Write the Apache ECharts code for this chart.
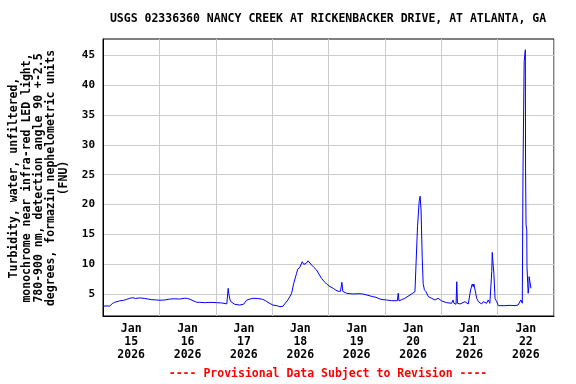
<!DOCTYPE html>
<html>
<head>
<meta charset="utf-8">
<script src="https://cdn.jsdelivr.net/npm/echarts@6/dist/echarts.min.js"></script>
<style>html,body{margin:0;padding:0;background:#fff;}#c{width:576px;height:384px;}</style>
</head>
<body>
<div id="c"></div>
<script>
// Hours since 2026-01-15 00:00
var hours = [0.0,2.85,4.13,5.0,7.1,8.8,10.1,11.4,12.65,13.9,15.6,17.8,18.6,20.7,22.9,24.2,26.3,28.4,30.5,32.7,34.8,36.1,37.4,38.2,39.9,41.2,43.3,45.5,48.4,50.6,52.7,53.3,53.5,54.0,54.4,56.1,58.2,59.9,61.1,62.5,63.8,65.9,68.0,69.3,70.2,72.3,74.0,75.3,76.6,77.4,78.7,79.5,80.3,81.2,82.4,82.9,83.8,84.8,85.5,85.9,86.6,87.3,88.1,88.8,89.8,90.9,91.9,93.0,94.0,95.2,96.6,98.0,99.1,100.1,101.1,101.7,102.1,103.7,105.1,106.4,108.5,110.6,112.8,114.9,116.2,117.9,119.2,120.7,122.9,125.3,125.7,126.0,126.7,128.5,130.7,131.9,132.8,133.6,133.9,134.6,135.0,135.4,135.9,136.3,136.8,137.5,138.5,139.9,141.3,142.7,144.2,146.3,148.4,149.0,149.4,150.3,150.6,150.9,152.0,154.1,155.5,156.5,157.2,157.6,157.9,158.4,159.1,159.8,161.2,161.9,163.3,164.0,164.7,165.5,165.7,166.1,166.4,166.9,167.6,168.3,171.1,173.3,175.4,176.7,177.5,177.9,178.5,178.8,179.3,179.8,179.9,180.1,180.4,180.5,180.8,181.0,181.3,181.4,182.0,182.2];
var turbidity = [3.04,3.04,3.5,3.66,3.9,4.0,4.16,4.33,4.43,4.3,4.4,4.3,4.16,4.1,4.05,4.0,4.05,4.2,4.25,4.2,4.35,4.3,4.1,3.88,3.66,3.66,3.6,3.65,3.6,3.55,3.4,6.0,5.2,4.2,3.77,3.33,3.2,3.35,4.0,4.2,4.33,4.3,4.16,3.9,3.66,3.2,3.1,2.93,3.0,3.33,4.05,4.6,5.17,6.84,8.5,9.2,9.5,10.45,10.0,9.7,10.2,10.6,10.3,9.9,9.5,9.07,8.4,7.68,7.2,6.72,6.3,6.0,5.7,5.5,5.5,7.0,5.5,5.17,5.1,5.05,5.1,5.05,4.83,4.6,4.5,4.21,4.1,4.05,3.93,3.93,5.17,3.9,3.77,4.33,4.88,5.2,5.44,5.17,16.3,20.5,21.4,19.1,11.1,6.8,5.8,5.44,4.6,4.33,4.05,4.33,3.88,3.6,3.5,4.05,3.5,3.33,7.1,3.5,3.38,3.77,3.38,5.72,6.72,6.27,6.72,5.72,4.33,3.77,3.38,3.77,3.5,4.05,3.5,8.8,12.0,9.9,8.5,4.33,3.77,3.1,3.1,3.15,3.1,3.2,3.15,4.05,3.5,25.5,43.9,45.9,25.8,16.6,15.8,9.6,6.84,5.17,6.27,7.95,7.95,6.0];
var xLabelHours = [12,36,60,84,108,132,156,180];
var xLabels = ['Jan\n15\n2026','Jan\n16\n2026','Jan\n17\n2026','Jan\n18\n2026','Jan\n19\n2026','Jan\n20\n2026','Jan\n21\n2026','Jan\n22\n2026'];
var yTicks = [5,10,15,20,25,30,35,40,45];
var titleText = 'USGS 02336360 NANCY CREEK AT RICKENBACKER DRIVE, AT ATLANTA, GA';
var yTitle = 'Turbidity, water, unfiltered,\nmonochrome near infra-red LED light,\n780-900 nm, detection angle 90 +-2.5\ndegrees, formazin nephelometric units\n(FNU)';
var footText = '---- Provisional Data Subject to Revision ----';

var FONT = '"DejaVu Sans Mono", monospace';
var data = hours.map(function(h,i){return [h, turbidity[i]];});
var chart = echarts.init(document.getElementById('c'));
chart.setOption({
  animation: false,
  backgroundColor: '#fff',
  title: {
    text: titleText, left: 328, top: 13, textAlign: 'center', padding: 0,
    textStyle: {fontFamily: FONT, fontWeight: 'bold', fontSize: 11.5, color: '#000'}
  },
  grid: {left: 103, right: 22, top: 39, bottom: 68, show: true, borderColor: '#000', borderWidth: 1, containLabel: false},
  xAxis: {
    type: 'value', min: 0, max: 192, interval: 24,
    axisLine: {show: true, lineStyle: {color: '#000', width: 1}},
    axisTick: {show: false},
    splitLine: {show: true, lineStyle: {color: '#cccccc', width: 1}},
    axisLabel: {
      customValues: xLabelHours, margin: 7, lineHeight: 13,
      fontFamily: FONT, fontWeight: 'bold', fontSize: 11.5, color: '#000',
      formatter: function(v){ var i = xLabelHours.indexOf(Math.round(v)); return i >= 0 ? xLabels[i] : ''; }
    }
  },
  yAxis: {
    type: 'value', min: 1.37, max: 47.7,
    axisLine: {show: true, lineStyle: {color: '#000', width: 1}},
    axisTick: {show: false, customValues: yTicks},
    splitLine: {show: true, lineStyle: {color: '#cccccc', width: 1}},
    axisLabel: {customValues: yTicks, margin: 8, fontFamily: FONT, fontWeight: 'bold', fontSize: 11, color: '#000'}
  },
  graphic: [
    {type: 'text', x: 39, y: 178, rotation: Math.PI/2,
     style: {text: yTitle, align: 'center', verticalAlign: 'middle', fill: '#000', font: 'bold 11.5px ' + FONT, lineHeight: 12.3}},
    {type: 'text', x: 328, y: 374,
     style: {text: footText, align: 'center', verticalAlign: 'middle', fill: '#ff0000', font: 'bold 11.5px ' + FONT}}
  ],
  series: [{
    type: 'line', data: data, showSymbol: false, symbol: 'none',
    lineStyle: {color: '#0000ff', width: 1}, z: 3
  }]
});
</script>
</body>
</html>
